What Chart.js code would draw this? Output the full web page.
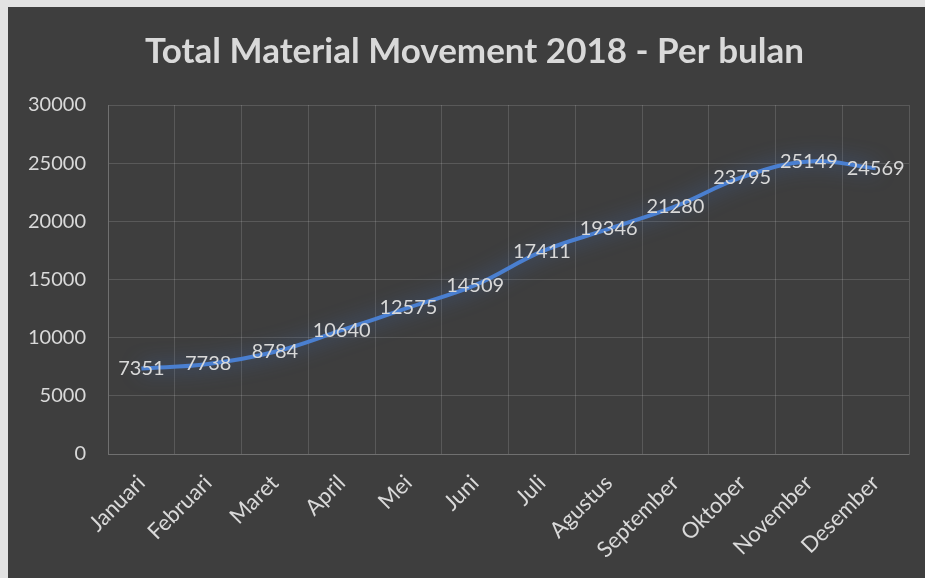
<!DOCTYPE html>
<html>
<head>
<meta charset="utf-8">
<script src="https://cdn.jsdelivr.net/npm/chart.js@4.4.1/dist/chart.umd.min.js"></script>
<style>
  html, body { margin: 0; padding: 0; background: #e2e2e2; width: 925px; height: 578px; overflow: hidden; }
  #wrap { position: absolute; left: 8px; top: 7px; width: 917px; height: 571px; background: #3e3e3e; }
</style>
</head>
<body>
<div id="wrap"><canvas id="myChart"></canvas></div>
<script>
// data
const months = ['Januari', 'Februari', 'Maret', 'April', 'Mei', 'Juni', 'Juli', 'Agustus', 'September', 'Oktober', 'November', 'Desember'];
const movement = [7351, 7738, 8784, 10640, 12575, 14509, 17411, 19346, 21280, 23795, 25149, 24569];
const yTicks = [0, 5000, 10000, 15000, 20000, 25000, 30000];
const chartTitle = 'Total Material Movement 2018 - Per bulan';

const textColor = '#d9d9d9';
const gridColor = 'rgba(255,255,255,0.14)';

// glow under the line
const glow = {
    id: 'glow',
    beforeDatasetsDraw(chart) {
        const c = chart.ctx;
        c.save();
        c.shadowColor = 'rgba(68,114,196,0.8)';
        c.shadowBlur = 20;
    },
    afterDatasetsDraw(chart) {
        chart.ctx.restore();
    }
};

// value labels centred on the points
const valueLabels = {
    id: 'valueLabels',
    afterDatasetsDraw(chart) {
        const c = chart.ctx;
        const meta = chart.getDatasetMeta(0);
        c.save();
        c.fillStyle = textColor;
        c.font = '20px Lato';
        c.textAlign = 'center';
        c.textBaseline = 'middle';
        meta.data.forEach(function(pt, i) {
            c.fillText(String(movement[i]), pt.x, pt.y);
        });
        c.restore();
    }
};

// title centred on the whole panel (the built-in one centres on the padded box)
const panelTitle = {
    id: 'panelTitle',
    afterDraw(chart) {
        const c = chart.ctx;
        c.save();
        c.fillStyle = textColor;
        c.font = 'bold 35px Lato';
        c.textAlign = 'center';
        c.textBaseline = 'middle';
        c.fillText(chartTitle, chart.width / 2 + 8, 45);
        c.restore();
    }
};

const ctx = document.getElementById('myChart');
const myChart = new Chart(ctx, {
    type: 'line',
    data: {
        labels: months,
        datasets: [{
            label: 'Total Material Movement',
            data: movement,
            borderColor: '#4a7fd0',
            borderWidth: 4,
            pointRadius: 0,
            tension: 0.4,
            fill: false
        }]
    },
    plugins: [glow, valueLabels, panelTitle],
    options: {
        responsive: true,
        maintainAspectRatio: false,
        animation: false,
        layout: { padding: { left: 0, right: 16, top: 98, bottom: 0 } },
        scales: {
            x: {
                offset: true,
                grid: { color: gridColor, offset: true, drawTicks: false },
                border: { color: gridColor },
                ticks: {
                    color: textColor,
                    font: { family: 'Lato', size: 22 },
                    maxRotation: 45,
                    minRotation: 45,
                    padding: 16
                },
                afterFit(scale) { scale.height = 124; }
            },
            y: {
                min: 0,
                max: 30000,
                afterBuildTicks(scale) { scale.ticks = yTicks.map(v => ({ value: v })); },
                grid: { color: gridColor, drawTicks: false },
                border: { color: gridColor },
                ticks: {
                    color: textColor,
                    font: { family: 'Lato', size: 20 },
                    padding: 22,
                    callback: function(value) { return String(value); }
                },
                afterFit(scale) { scale.width = 100; }
            }
        },
        plugins: {
            legend: { display: false },
            tooltip: { enabled: false },
            title: { display: false }
        }
    }
});
</script>
</body>
</html>
